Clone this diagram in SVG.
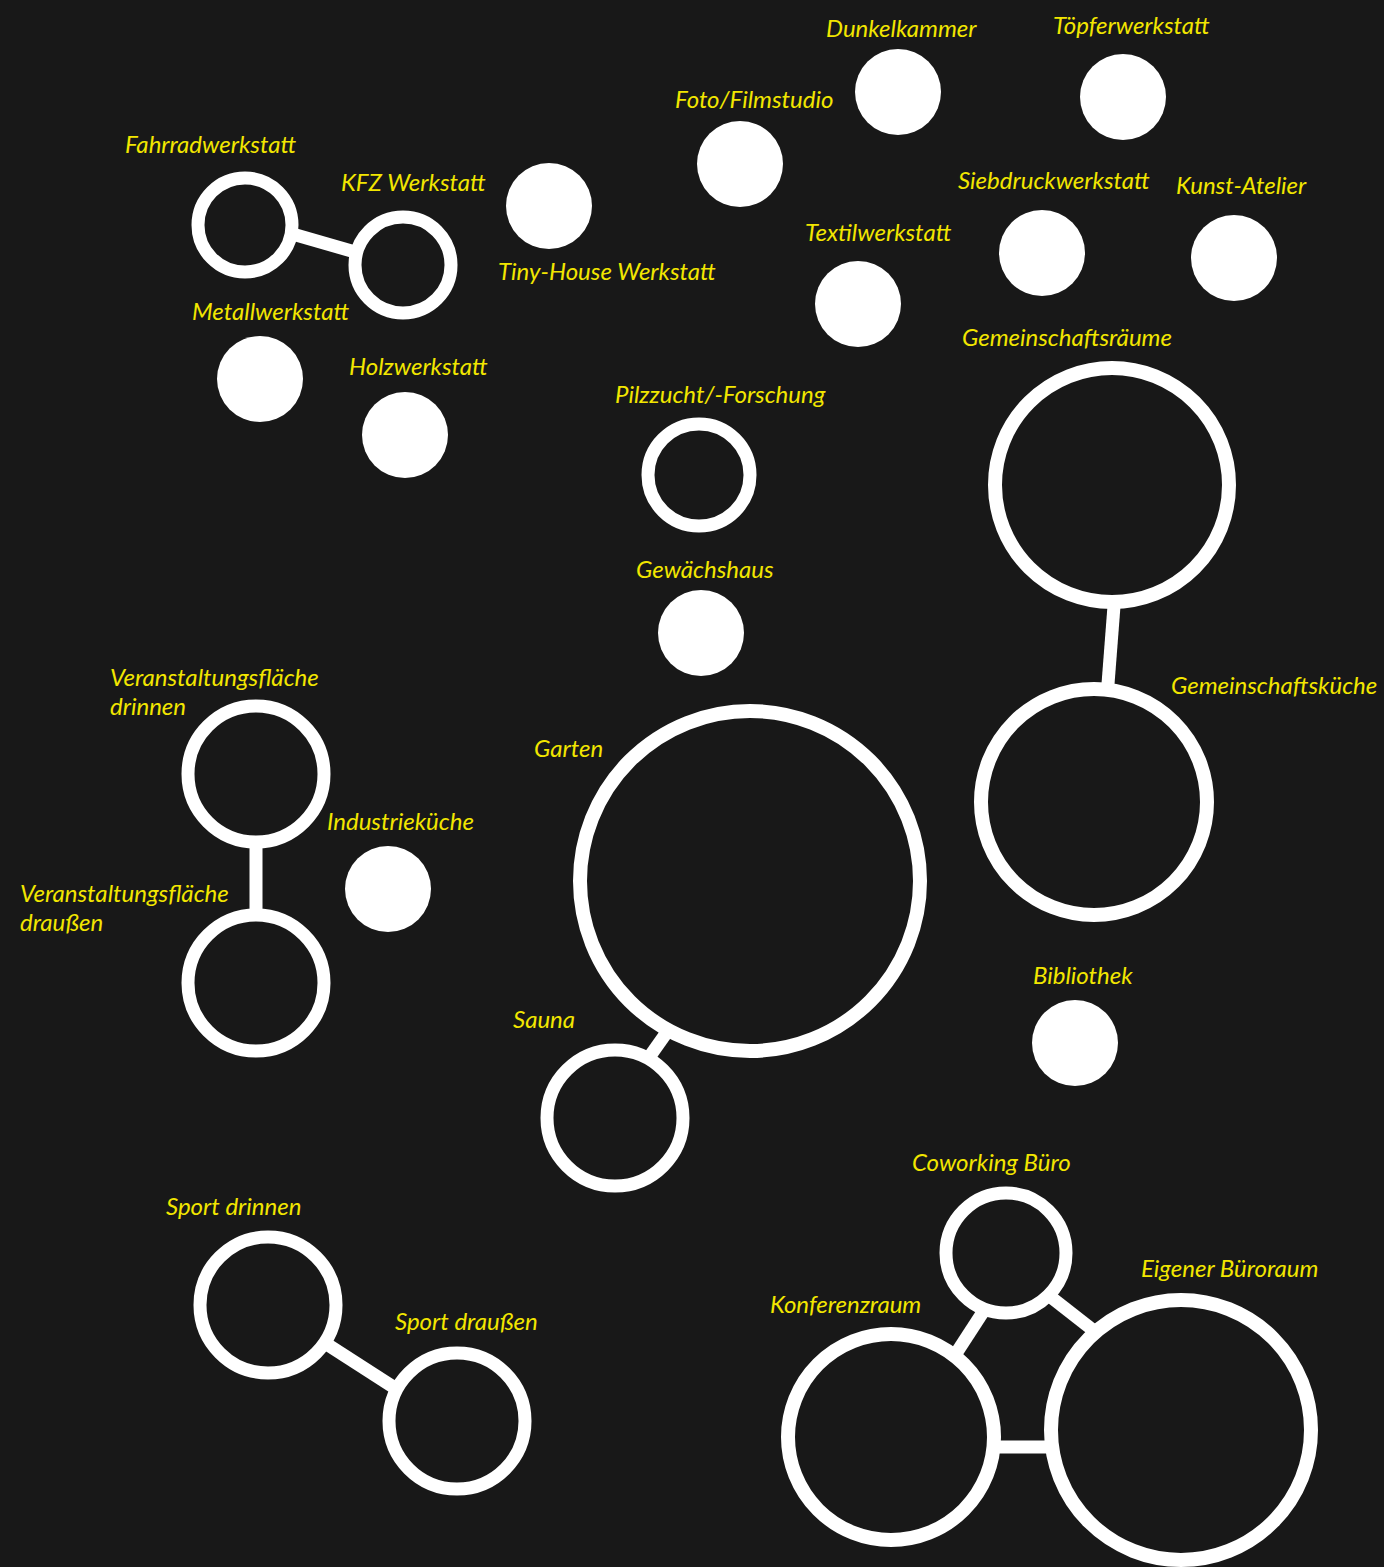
<svg xmlns="http://www.w3.org/2000/svg" width="1384" height="1567" viewBox="0 0 1384 1567">
<style>
.bg{fill:#181818}
.ring{fill:none;stroke:#ffffff;stroke-width:13}
.dot{fill:#ffffff}
.lbl{font-family:Lato,"Liberation Sans",sans-serif;font-style:italic;font-size:24px;fill:#f2e600}
.edge{stroke:#ffffff;stroke-width:13;fill:none}
</style>
<rect class="bg" x="0" y="0" width="1384" height="1567"/>
<g id="connectors">
<line class="edge" x1="296" y1="235" x2="355" y2="252"/>
<line class="edge" x1="1114" y1="606" x2="1108" y2="684"/>
<line class="edge" x1="256" y1="842" x2="256" y2="915"/>
<line class="edge" x1="667" y1="1032" x2="650" y2="1056"/>
<line class="edge" x1="325" y1="1343" x2="398" y2="1390"/>
<line class="edge" x1="983" y1="1312" x2="957" y2="1352"/>
<line class="edge" x1="1052" y1="1298" x2="1098" y2="1334"/>
<line class="edge" x1="995" y1="1447" x2="1050" y2="1447"/>
</g>
<g id="fahrradwerkstatt"><circle class="ring" cx="245" cy="225" r="47"/><text class="lbl" x="125" y="153">Fahrradwerkstatt</text></g>
<g id="kfz-werkstatt"><circle class="ring" cx="403" cy="265" r="48"/><text class="lbl" x="341" y="191">KFZ Werkstatt</text></g>
<g id="tiny-house-werkstatt"><circle class="dot" cx="549" cy="206" r="43"/><text class="lbl" x="498" y="280">Tiny-House Werkstatt</text></g>
<g id="foto-filmstudio"><circle class="dot" cx="740" cy="164" r="43"/><text class="lbl" x="675" y="108">Foto/Filmstudio</text></g>
<g id="dunkelkammer"><circle class="dot" cx="898" cy="92" r="43"/><text class="lbl" x="826" y="37">Dunkelkammer</text></g>
<g id="toepferwerkstatt"><circle class="dot" cx="1123" cy="97" r="43"/><text class="lbl" x="1053" y="34">Töpferwerkstatt</text></g>
<g id="siebdruckwerkstatt"><circle class="dot" cx="1042" cy="253" r="43"/><text class="lbl" x="958" y="189">Siebdruckwerkstatt</text></g>
<g id="kunst-atelier"><circle class="dot" cx="1234" cy="258" r="43"/><text class="lbl" x="1176" y="194">Kunst-Atelier</text></g>
<g id="textilwerkstatt"><circle class="dot" cx="858" cy="304" r="43"/><text class="lbl" x="805" y="241">Textilwerkstatt</text></g>
<g id="metallwerkstatt"><circle class="dot" cx="260" cy="379" r="43"/><text class="lbl" x="192" y="320">Metallwerkstatt</text></g>
<g id="holzwerkstatt"><circle class="dot" cx="405" cy="435" r="43"/><text class="lbl" x="349" y="375">Holzwerkstatt</text></g>
<g id="pilzzucht"><circle class="ring" cx="699" cy="475" r="51"/><text class="lbl" x="615" y="403">Pilzzucht/-Forschung</text></g>
<g id="gemeinschaftsraeume"><circle class="ring" cx="1112" cy="485" r="117" style="stroke-width:14"/><text class="lbl" x="962" y="346">Gemeinschaftsräume</text></g>
<g id="gemeinschaftskueche"><circle class="ring" cx="1094" cy="802" r="113" style="stroke-width:14"/><text class="lbl" x="1171" y="694">Gemeinschaftsküche</text></g>
<g id="gewaechshaus"><circle class="dot" cx="701" cy="633" r="43"/><text class="lbl" x="636" y="578">Gewächshaus</text></g>
<g id="veranstaltung-drinnen"><circle class="ring" cx="256" cy="774" r="68"/><text class="lbl" x="110" y="686">Veranstaltungsfläche</text><text class="lbl" x="110" y="715">drinnen</text></g>
<g id="veranstaltung-draussen"><circle class="ring" cx="256" cy="983" r="68"/><text class="lbl" x="20" y="902">Veranstaltungsfläche</text><text class="lbl" x="20" y="931">draußen</text></g>
<g id="industriekueche"><circle class="dot" cx="388" cy="889" r="43"/><text class="lbl" x="327" y="830">Industrieküche</text></g>
<g id="garten"><circle class="ring" cx="750" cy="881" r="170" style="stroke-width:14"/><text class="lbl" x="534" y="757">Garten</text></g>
<g id="sauna"><circle class="ring" cx="615" cy="1118" r="68"/><text class="lbl" x="513" y="1028">Sauna</text></g>
<g id="bibliothek"><circle class="dot" cx="1075" cy="1043" r="43"/><text class="lbl" x="1033" y="984">Bibliothek</text></g>
<g id="sport-drinnen"><circle class="ring" cx="268" cy="1305" r="68"/><text class="lbl" x="166" y="1215">Sport drinnen</text></g>
<g id="sport-draussen"><circle class="ring" cx="457" cy="1421" r="68"/><text class="lbl" x="395" y="1330">Sport draußen</text></g>
<g id="coworking-buero"><circle class="ring" cx="1006" cy="1253" r="60"/><text class="lbl" x="912" y="1171">Coworking Büro</text></g>
<g id="konferenzraum"><circle class="ring" cx="891" cy="1437" r="103" style="stroke-width:14"/><text class="lbl" x="770" y="1313">Konferenzraum</text></g>
<g id="eigener-bueroraum"><circle class="ring" cx="1181" cy="1430" r="130" style="stroke-width:14"/><text class="lbl" x="1141" y="1277">Eigener Büroraum</text></g>
</svg>
